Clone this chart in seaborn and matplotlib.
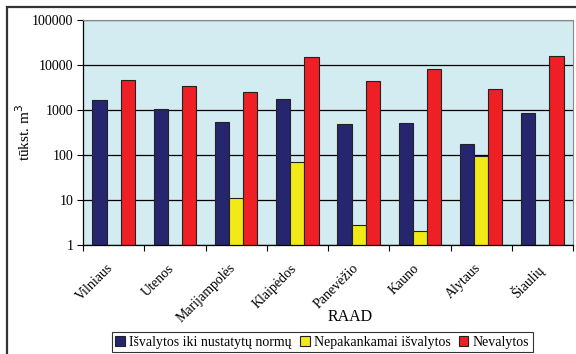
import numpy as np
import pandas as pd
import matplotlib
matplotlib.use("Agg")
import matplotlib.pyplot as plt
import matplotlib.transforms as mtransforms
import seaborn as sns
from matplotlib.patches import Rectangle
from matplotlib.ticker import FixedLocator, NullLocator

regions = ['Vilniaus', 'Utenos', 'Marijampolės', 'Klaipėdos',
           'Panevėžio', 'Kauno', 'Alytaus', 'Šiaulių']
series = ['Išvalytos iki nustatytų normų', 'Nepakankamai išvalytos', 'Nevalytos']

isvalytos = [1700, 1050, 530, 1750, 480, 510, 175, 850]
nepakankamai = [np.nan, np.nan, 11, 70, 2.8, 2.0, 97, np.nan]
nevalytos = [4700, 3350, 2500, 15000, 4300, 8200, 2950, 15700]

colors = ['#26266E', '#F2EA17', '#EE2025']

df = pd.DataFrame({
    'RAAD': regions * 3,
    'series': [series[0]] * 8 + [series[1]] * 8 + [series[2]] * 8,
    'value': isvalytos + nepakankamai + nevalytos,
})

plt.rcParams['font.family'] = ['Liberation Serif', 'DejaVu Serif']

fig = plt.figure(figsize=(5.76, 3.54), dpi=100)
ax = fig.add_axes([83 / 576, 1 - 245 / 354, 490 / 576, 225 / 354])
ax.set_facecolor('#D3ECF2')

sns.barplot(data=df, x='RAAD', y='value', hue='series', hue_order=series,
            palette=colors, width=0.69, edgecolor='#222222', linewidth=0.8,
            saturation=1, ax=ax, legend=True)

ax.set_yscale('log')
ax.set_ylim(1, 100000)
ax.set_xlim(-0.5, len(regions) - 0.5)
ax.yaxis.set_major_locator(FixedLocator([1, 10, 100, 1000, 10000, 100000]))
ax.yaxis.set_minor_locator(NullLocator())
ax.set_yticklabels(['1', '10', '100', '1000', '10000', '100000'], fontsize=10)
ax.yaxis.grid(True, color='black', linewidth=0.9)
ax.set_axisbelow(True)

# x ticks at the boundaries, labels at the centres
ax.set_xticks(np.arange(len(regions) + 1) - 0.5)
ax.set_xticklabels([])
ax.set_xticks(np.arange(len(regions)), minor=True)
ax.set_xticklabels(regions, minor=True, rotation=45, ha='right',
                   rotation_mode='anchor', fontsize=10)
ax.tick_params(axis='x', which='minor', length=0, pad=12)
ax.tick_params(axis='x', which='major', length=4, direction='out')
ax.tick_params(axis='y', length=4, direction='out', pad=3)
shift = mtransforms.ScaledTranslation(-7 / 100, 0, fig.dpi_scale_trans)
for lab in ax.get_xticklabels(minor=True):
    lab.set_transform(lab.get_transform() + shift)

for side in ['top', 'right']:
    ax.spines[side].set_color('#888888')
    ax.spines[side].set_linewidth(0.8)
for side in ['left', 'bottom']:
    ax.spines[side].set_color('black')
    ax.spines[side].set_linewidth(0.9)

ax.set_xlabel('RAAD', fontsize=11.5, va='center')
ax.xaxis.set_label_coords((350 - 83) / 490, (245 - 317) / 225)
ax.set_ylabel('tūkst. m$^{3}$', fontsize=11, va='center')
ax.yaxis.set_label_coords((24 - 83) / 490, 0.5)

ax.legend(loc='upper center', bbox_to_anchor=(0.488, -0.387), ncol=3,
          frameon=True, fancybox=False, edgecolor='black', fontsize=10,
          handlelength=0.7, handleheight=0.7, handletextpad=0.3,
          columnspacing=0.6, borderpad=0.25, borderaxespad=0)
ax.get_legend().get_frame().set_linewidth(0.8)

fig.patches.append(Rectangle((7 / 576, -0.1), 1.2, 1 - 7 / 354 + 0.1,
                             transform=fig.transFigure, fill=False,
                             edgecolor='#333333', linewidth=1.6))

fig.savefig('out.png', dpi=100)
